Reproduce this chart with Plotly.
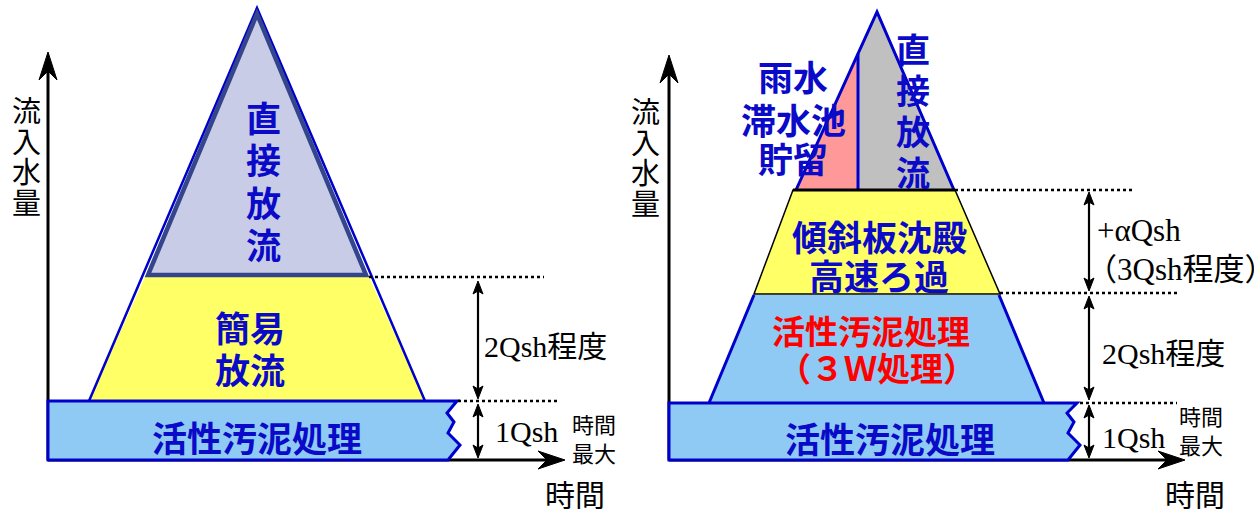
import plotly.graph_objects as go

W, H = 1254, 509

# ---------------- geometry (diagram coordinates, y grows downward) ----------------
# Left panel
L_axis_x = 48
L_axis_y = 460
L_axis_top = 52
L_axis_right = 565
L_levels = [460, 401, 277, 8]            # base, 1Qsh, +2Qsh, peak
L_base_right = [457, 447, 454, 448, 460, 448]   # zig-zag x of base block
L_base_zig_y = [401, 413, 422, 433, 445, 460]
L_trap_bottom_x = [89, 425]
L_trap_top_x = [145, 369]
L_peak_x = 257
L_arrow_x = 478
L_dot1 = [369, 544]
L_dot2 = [458, 560]

# Right panel
R_axis_x = 669
R_axis_y = 460
R_axis_top = 55
R_axis_right = 1185
R_levels = [460, 403, 294, 190, 12]     # base, 1Qsh, +2Qsh, +aQsh, peak
R_base_right = [1077, 1067, 1074, 1068, 1080, 1068]
R_base_zig_y = [403, 413, 422, 433, 445, 460]
R_blue_bottom_x = [709, 1044]
R_blue_top_x = [754, 999]
R_yel_bottom_x = [754, 1000]
R_yel_top_x = [793, 955]
R_tri_x = [796, 954]
R_peak_x = 877
R_divider_x = 858
R_arrow_x = 1089
R_dot1 = [955, 1132]
R_dot2 = [1000, 1177]
R_dot3 = [1080, 1177]

# colours
C_LAV = "#c8cce6"
C_YEL = "#ffff66"
C_LBLUE = "#8ecaf4"
C_PINK = "#ff9999"
C_GRAY = "#c0c0c0"
C_BLUE = "#0000cc"
C_DARK = "#34458c"
C_TXT = "#0a0ac8"
C_RED = "#ff0000"

CJK = "Noto Sans CJK JP"
SERIF = "Liberation Serif, Noto Sans CJK JP"

shapes = []


def poly(pts, fill=None, line=None, width=0, closed=True, dash=None):
    d = "M " + " L ".join(f"{x},{y}" for x, y in pts)
    if closed:
        d += " Z"
    s = dict(type="path", xref="x", yref="y", path=d, layer="above")
    if fill:
        s["fillcolor"] = fill
    else:
        s["fillcolor"] = "rgba(0,0,0,0)"
    if line:
        s["line"] = dict(color=line, width=width)
        if dash:
            s["line"]["dash"] = dash
    else:
        s["line"] = dict(width=0)
    shapes.append(s)


def seg(x0, y0, x1, y1, color="black", width=2.5, dash=None):
    s = dict(type="line", xref="x", yref="y", x0=x0, y0=y0, x1=x1, y1=y1,
             line=dict(color=color, width=width), layer="above")
    if dash:
        s["line"]["dash"] = dash
    shapes.append(s)


def head(tx, ty, dx, dy, L, Wd, notch):
    px, py = -dy, dx
    bx, by = tx - L * dx, ty - L * dy
    c1 = (bx + Wd * px, by + Wd * py)
    c2 = (bx - Wd * px, by - Wd * py)
    nt = (tx - (L - notch) * dx, ty - (L - notch) * dy)
    poly([(tx, ty), c1, nt, c2], fill="black", line="black", width=1)


def darrow(x, y0, y1):
    seg(x, y0 + 6, x, y1 - 6, width=2.2)
    head(x, y0, 0, -1, 13, 5, 3)
    head(x, y1, 0, 1, 13, 5, 3)


# ---------------- axes ----------------
for ax_x, ax_y, top, right in [(L_axis_x, L_axis_y, L_axis_top, L_axis_right),
                               (R_axis_x, R_axis_y, R_axis_top, R_axis_right)]:
    seg(ax_x, ax_y, ax_x, top + 15, width=3)
    head(ax_x, top, 0, -1, 28, 9, 9)
    seg(ax_x, ax_y, right - 15, ax_y, width=3)
    head(right, ax_y, 1, 0, 27, 9, 9)

# ---------------- left panel ----------------
b, q1, q3, pk = L_levels
poly([(L_trap_bottom_x[0], q1), (L_trap_top_x[0], q3), (L_trap_top_x[1], q3),
      (L_trap_bottom_x[1], q1)], fill=C_YEL)
poly([(L_trap_top_x[0], q3), (L_peak_x, pk), (L_trap_top_x[1], q3)], fill=C_LAV)
poly([(L_trap_bottom_x[0], q1), (L_peak_x, pk), (L_trap_bottom_x[1], q1)],
     line=C_BLUE, width=2.5, closed=False)
poly([(L_trap_top_x[0] + 3, q3 - 2), (L_peak_x, pk + 6), (L_trap_top_x[1] - 3, q3 - 2)],
     line=C_DARK, width=4.5)
base_pts = [(L_axis_x, q1)] + list(zip(L_base_right, L_base_zig_y)) + [(L_axis_x, b)]
poly(base_pts, fill=C_LBLUE, line=C_BLUE, width=3)
seg(L_dot1[0], q3, L_dot1[1], q3, width=2.5, dash="dot")
seg(L_dot2[0], q1, L_dot2[1], q1, width=2.5, dash="dot")
darrow(L_arrow_x, q3 + 4, q1 - 2)
darrow(L_arrow_x, q1 + 3, b - 2)

# ---------------- right panel ----------------
rb, r1, r3, ra, rpk = R_levels
t = (R_divider_x - R_tri_x[0]) / (R_peak_x - R_tri_x[0])
div_top = ra - t * (ra - rpk)
poly([(R_tri_x[0], ra), (R_divider_x, ra), (R_divider_x, div_top)], fill=C_PINK)
poly([(R_divider_x, ra), (R_divider_x, div_top), (R_peak_x, rpk), (R_tri_x[1], ra)],
     fill=C_GRAY)
poly([(R_tri_x[0], ra), (R_peak_x, rpk), (R_tri_x[1], ra)], line=C_BLUE, width=3,
     closed=False)
seg(R_divider_x, ra, R_divider_x, div_top, color=C_BLUE, width=3)
poly([(R_yel_top_x[0], ra), (R_yel_top_x[1], ra), (R_yel_bottom_x[1], r3),
      (R_yel_bottom_x[0], r3)], fill=C_YEL, line="black", width=1.5)
seg(R_yel_top_x[0], ra, R_yel_top_x[1], ra, width=3)
poly([(R_blue_top_x[0], r3 + 1), (R_blue_top_x[1], r3 + 1), (R_blue_bottom_x[1], r1),
      (R_blue_bottom_x[0], r1)], fill=C_LBLUE)
seg(R_blue_top_x[0], r3 + 1, R_blue_bottom_x[0], r1, color=C_BLUE, width=3)
seg(R_blue_top_x[1], r3 + 1, R_blue_bottom_x[1], r1, color=C_BLUE, width=3)
base_pts = [(R_axis_x, r1)] + list(zip(R_base_right, R_base_zig_y)) + [(R_axis_x, rb)]
poly(base_pts, fill=C_LBLUE, line=C_BLUE, width=3)
seg(R_dot1[0], ra, R_dot1[1], ra, width=2.5, dash="dot")
seg(R_dot2[0], r3 - 1, R_dot2[1], r3 - 1, width=2.5, dash="dot")
seg(R_dot3[0], r1, R_dot3[1], r1, width=2.5, dash="dot")
darrow(R_arrow_x, ra + 2, r3 - 3)
darrow(R_arrow_x, r3 + 2, r1 - 3)
darrow(R_arrow_x, r1 + 2, rb - 2)

# ---------------- text ----------------
ann = []


def txt(s, x, y, size, color="black", family=CJK, bold=False, xanchor="center"):
    ann.append(dict(text=(f"<b>{s}</b>" if bold else s), x=x, y=y, xref="x", yref="y",
                    showarrow=False, xanchor=xanchor, yanchor="middle",
                    font=dict(family=family, size=size, color=color)))


def vtxt(s, x, y0, step, size, color="black", bold=False):
    for i, ch in enumerate(s):
        txt(ch, x, y0 + i * step, size, color, bold=bold)


# y-axis titles
vtxt("流入水量", 26, 109, 30.5, 29)
vtxt("流入水量", 645, 110, 30.5, 29)
# x-axis titles
txt("時間", 575, 493, 30)
txt("時間", 1195, 493, 30)
txt("時間<br>最大", 594, 437, 22)
txt("時間<br>最大", 1201, 429, 22)

# left panel labels
vtxt("直接放流", 263, 116, 42.5, 35, C_TXT, bold=True)
txt("簡易", 250, 326, 35, C_TXT, bold=True)
txt("放流", 250, 368, 35, C_TXT, bold=True)
txt("活性汚泥処理", 257, 436, 35, C_TXT, bold=True)
txt("2Qsh程度", 482, 346, 30, family=SERIF, xanchor="left")
txt("1Qsh", 493, 431, 30, family=SERIF, xanchor="left")

# right panel labels
txt("雨水", 793, 75, 35, C_TXT, bold=True)
txt("滞水池", 793, 118, 35, C_TXT, bold=True)
txt("貯留", 793, 157, 35, C_TXT, bold=True)
vtxt("直接放流", 913, 48, 41, 34, C_TXT, bold=True)
txt("傾斜板沈殿", 879, 235, 35, C_TXT, bold=True)
txt("高速ろ過", 879, 274, 35, C_TXT, bold=True)
txt("活性汚泥処理", 871, 330, 33, C_RED, bold=True)
txt("（３Ｗ処理）", 877, 367, 33, C_RED, bold=True)
txt("活性汚泥処理", 890, 437, 35, C_TXT, bold=True)
txt("+αQsh", 1095, 230, 31, family=SERIF, xanchor="left")
txt("（3Qsh程度）", 1084, 269, 31, family=SERIF, xanchor="left")
txt("2Qsh程度", 1100, 353, 30, family=SERIF, xanchor="left")
txt("1Qsh", 1100, 437, 30, family=SERIF, xanchor="left")

fig = go.Figure()
fig.add_trace(go.Scatter(x=[0, W], y=[0, H], mode="markers",
                         marker=dict(opacity=0), hoverinfo="skip", showlegend=False))
fig.update_layout(
    width=W, height=H, margin=dict(l=0, r=0, t=0, b=0),
    paper_bgcolor="white", plot_bgcolor="white",
    xaxis=dict(range=[0, W], visible=False, fixedrange=True),
    yaxis=dict(range=[H, 0], visible=False, fixedrange=True),
    shapes=shapes, annotations=ann, showlegend=False,
)
fig.write_html("out.html", config={"displayModeBar": False},
               post_script="document.body.style.margin='0';document.body.style.overflow='hidden';")
